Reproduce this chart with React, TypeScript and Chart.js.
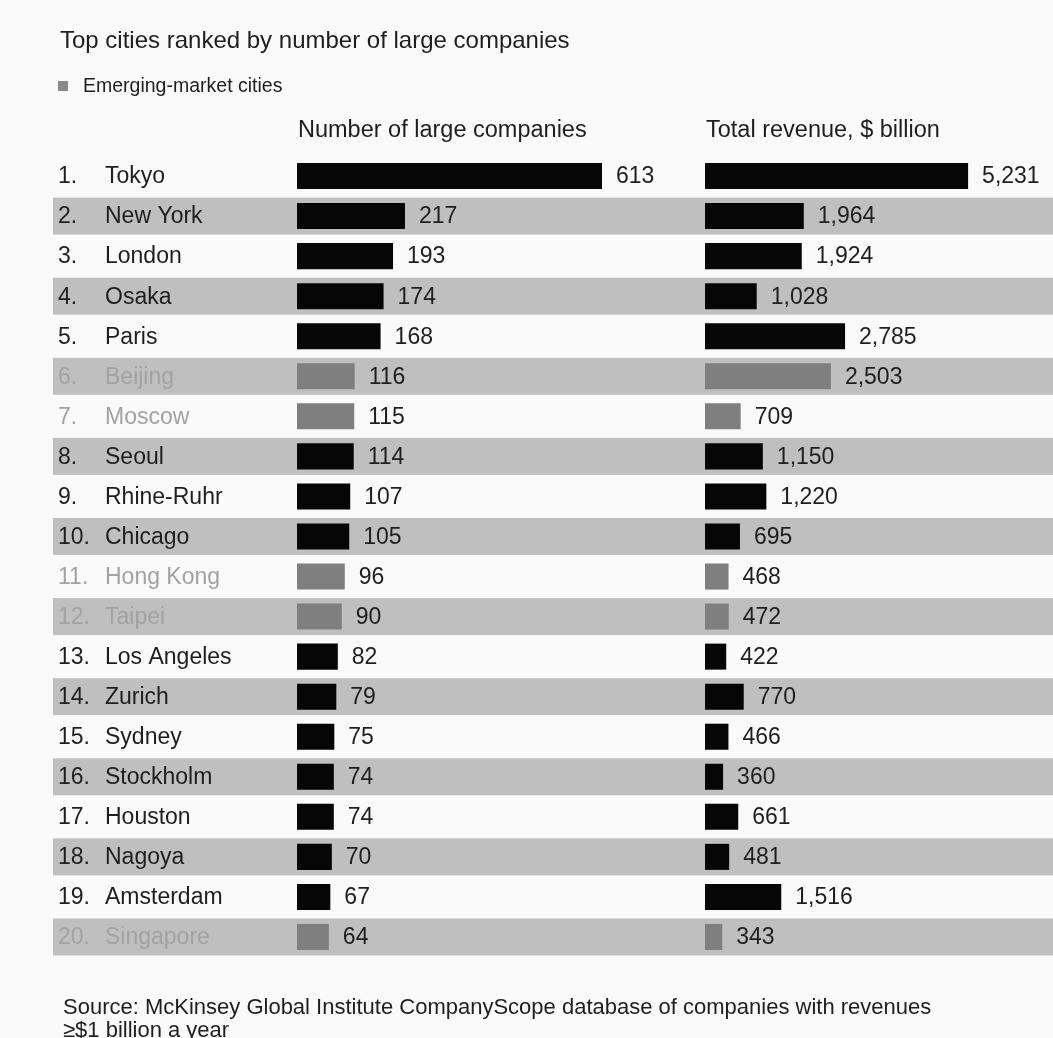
import React, { useEffect, useRef } from 'react';
import { Chart, registerables } from 'chart.js';

Chart.register(...registerables);

const rankLabels = ['1.', '2.', '3.', '4.', '5.', '6.', '7.', '8.', '9.', '10.', '11.', '12.', '13.', '14.', '15.', '16.', '17.', '18.', '19.', '20.'];
const cities = ['Tokyo', 'New York', 'London', 'Osaka', 'Paris', 'Beijing', 'Moscow', 'Seoul', 'Rhine-Ruhr', 'Chicago', 'Hong Kong', 'Taipei', 'Los Angeles', 'Zurich', 'Sydney', 'Stockholm', 'Houston', 'Nagoya', 'Amsterdam', 'Singapore'];
const companies = [613, 217, 193, 174, 168, 116, 115, 114, 107, 105, 96, 90, 82, 79, 75, 74, 74, 70, 67, 64];
const revenue = [5231, 1964, 1924, 1028, 2785, 2503, 709, 1150, 1220, 695, 468, 472, 422, 770, 466, 360, 661, 481, 1516, 343];
const emerging = [false, false, false, false, false, true, true, false, false, false, true, true, false, false, false, false, false, false, false, true];

const TITLE = 'Top cities ranked by number of large companies';
const LEGEND_LABEL = 'Emerging-market cities';
const HEADER_COMPANIES = 'Number of large companies';
const HEADER_REVENUE = 'Total revenue, $ billion';
const SOURCE_1 = 'Source: McKinsey Global Institute CompanyScope database of companies with revenues';
const SOURCE_2 = '\u2265$1 billion a year';

const FONT = "'Liberation Sans', Arial, Helvetica, sans-serif";
const BLACK = '#060606';
const GREY_BAR = '#7f7f7f';
const STRIPE = '#bfbfbf';
const TEXT = '#1e1e1e';
const TEXT_EM = '#a2a2a2';
const BG = '#fafafa';

const W = 1053;
const H = 1038;

const rowPlugin = {
  id: 'rowDecor',
  beforeDatasetsDraw(chart: any) {
    const ctx = chart.ctx;
    const y = chart.scales.y;
    ctx.save();
    for (let i = 0; i < cities.length; i++) {
      const cy = y.getPixelForValue(i);
      if (i % 2 === 1) {
        ctx.fillStyle = STRIPE;
        ctx.fillRect(53, cy - 18.5, W - 53, 37);
      }
    }
    ctx.font = `23px ${FONT}`;
    ctx.textBaseline = 'middle';
    ctx.textAlign = 'left';
    for (let i = 0; i < cities.length; i++) {
      const cy = y.getPixelForValue(i);
      ctx.fillStyle = emerging[i] ? TEXT_EM : TEXT;
      ctx.fillText(rankLabels[i], 58, cy + 1);
      ctx.fillText(cities[i], 105, cy + 1);
    }
    ctx.restore();
  },
  afterDatasetsDraw(chart: any) {
    const ctx = chart.ctx;
    ctx.save();
    ctx.font = `23px ${FONT}`;
    ctx.textBaseline = 'middle';
    ctx.textAlign = 'left';
    ctx.fillStyle = TEXT;
    chart.data.datasets.forEach((ds: any, di: number) => {
      const meta = chart.getDatasetMeta(di);
      meta.data.forEach((bar: any, i: number) => {
        const v = ds.data[i] as number;
        ctx.fillText(v.toLocaleString('en-US'), bar.x + 14, bar.y + 1);
      });
    });
    ctx.restore();
  },
};

export default function App() {
  const ref = useRef<HTMLCanvasElement | null>(null);

  useEffect(() => {
    if (!ref.current) return;
    const colors = emerging.map((e) => (e ? GREY_BAR : BLACK));
    const chart = new Chart(ref.current, {
      type: 'bar',
      data: {
        labels: cities,
        datasets: [
          {
            label: HEADER_COMPANIES,
            data: companies,
            xAxisID: 'x1',
            backgroundColor: colors,
            grouped: false,
            barPercentage: 0.65,
            categoryPercentage: 1,
          } as any,
          {
            label: HEADER_REVENUE,
            data: revenue,
            xAxisID: 'x2',
            backgroundColor: colors,
            grouped: false,
            barPercentage: 0.65,
            categoryPercentage: 1,
          } as any,
        ],
      },
      options: {
        indexAxis: 'y',
        responsive: false,
        animation: false,
        events: [],
        layout: { padding: { left: 297, right: 6, top: 156, bottom: 81 } },
        plugins: {
          legend: { display: false },
          tooltip: { enabled: false },
          title: { display: false },
        },
        scales: {
          y: { type: 'category', display: false, offset: true },
          x1: { type: 'linear', axis: 'x', position: 'bottom', min: 0, max: 820, display: false, stack: 'cols', stackWeight: 408 },
          x2: { type: 'linear', axis: 'x', position: 'bottom', min: 0, max: 6800, display: false, stack: 'cols', stackWeight: 342 },
        } as any,
      },
      plugins: [rowPlugin],
    });
    return () => chart.destroy();
  }, []);

  const abs = (left: number, top: number, size: number, extra: any = {}) => ({
    position: 'absolute' as const,
    left,
    top,
    fontSize: size,
    lineHeight: `${size}px`,
    fontFamily: FONT,
    color: TEXT,
    whiteSpace: 'nowrap' as const,
    ...extra,
  });

  return (
    <div style={{ position: 'absolute', left: 0, top: 0, width: W, height: H, background: BG, overflow: 'hidden' }}>
      <canvas ref={ref} width={W} height={H} style={{ position: 'absolute', left: 0, top: 0, width: W, height: H }} />
      <div style={abs(60, 28, 24)}>{TITLE}</div>
      <div style={{ position: 'absolute', left: 58, top: 81, width: 10, height: 10, background: '#8a8a8a' }} />
      <div style={abs(83, 76, 19.5)}>{LEGEND_LABEL}</div>
      <div style={abs(298, 118, 23.5)}>{HEADER_COMPANIES}</div>
      <div style={abs(706, 118, 23.5)}>{HEADER_REVENUE}</div>
      <div style={abs(63, 996, 22)}>{SOURCE_1}</div>
      <div style={abs(63, 1019, 22)}>{SOURCE_2}</div>
    </div>
  );
}
